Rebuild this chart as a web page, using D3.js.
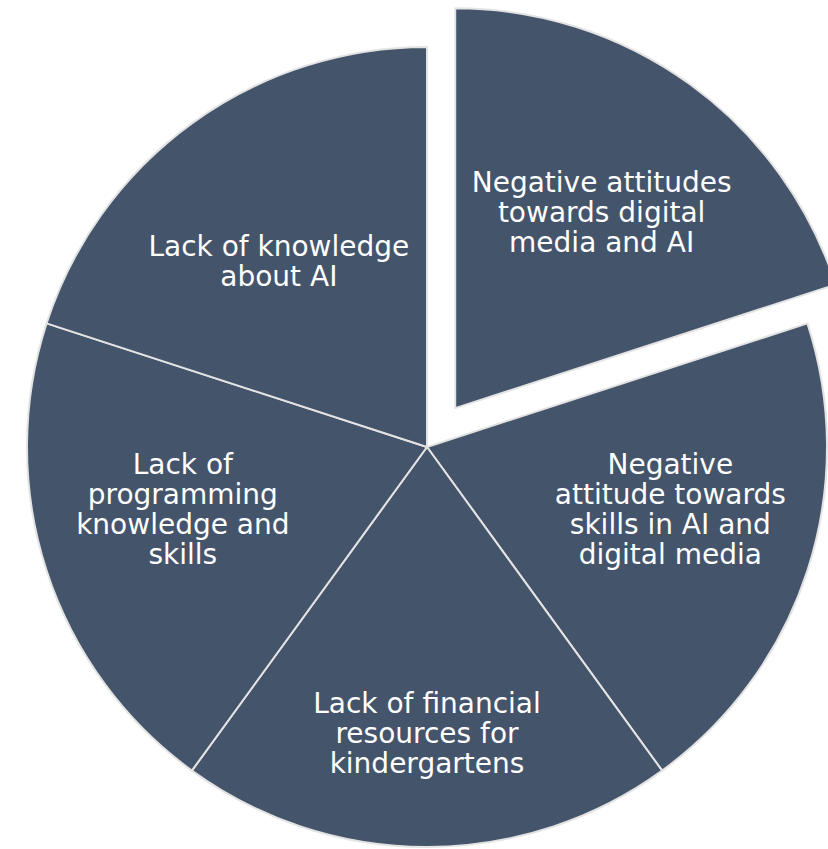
<!DOCTYPE html>
<html>
<head>
    <title>Barriers to AI in kindergartens</title>
    <script src="https://d3js.org/d3.v7.min.js"></script>
    <style>
        body { margin: 0; background: #ffffff; }
        svg { display: block; }
    </style>
</head>
<body>
    <svg width="828" height="849"></svg>

    <script>
        // Slice labels, clockwise from 12 o'clock (line breaks as in the picture)
        const categories = [
            "Negative attitudes\ntowards digital\nmedia and AI",
            "Negative\nattitude towards\nskills in AI and\ndigital media",
            "Lack of financial\nresources for\nkindergartens",
            "Lack of\nprogramming\nknowledge and\nskills",
            "Lack of knowledge\nabout AI"
        ];
        // All slices are the same size
        const values = [1, 1, 1, 1, 1];
        // Which slice is pulled out
        const exploded = [true, false, false, false, false];

        const svg = d3.select("svg");
        const cx = 427, cy = 447;
        const radius = 400;
        const explodeBy = 48;
        // label placement per slice: distance from centre and a small angle nudge (degrees)
        const labelDist = [245, 251, 286, 252, 238];
        const labelNudge = [0.7, -3.8, 0, 3.7, -2.5];

        const pie = d3.pie().sort(null).value(d => d);
        const arcs = pie(values);

        const arc = d3.arc().innerRadius(0).outerRadius(radius);

        const chart = svg.append("g")
            .attr("transform", `translate(${cx},${cy})`);

        const slices = chart.selectAll("g.slice")
            .data(arcs)
            .enter().append("g")
            .attr("class", "slice")
            .attr("transform", (d, i) => {
                if (!exploded[i]) return null;
                const a = (d.startAngle + d.endAngle) / 2;
                return `translate(${Math.sin(a) * explodeBy},${-Math.cos(a) * explodeBy})`;
            });

        slices.append("path")
            .attr("d", arc)
            .attr("fill", "#44546a")
            .attr("stroke", "#e3e3e3")
            .attr("stroke-width", 2)
            .attr("stroke-linejoin", "round");

        // Labels
        const lineHeight = 30;
        slices.append("text")
            .attr("fill", "#ffffff")
            .attr("font-family", "'DejaVu Sans', Verdana, sans-serif")
            .attr("font-size", 28)
            .attr("text-anchor", "middle")
            .each(function (d, i) {
                const a = (d.startAngle + d.endAngle) / 2 + labelNudge[i] * Math.PI / 180;
                const x = Math.sin(a) * labelDist[i];
                const y = -Math.cos(a) * labelDist[i];
                const lines = categories[i].split("\n");
                const top = y - (lines.length - 1) * lineHeight / 2;
                d3.select(this).selectAll("tspan")
                    .data(lines)
                    .enter().append("tspan")
                    .attr("x", x)
                    .attr("y", (l, j) => top + j * lineHeight)
                    .attr("dy", "0.36em")
                    .text(l => l);
            });
    </script>
</body>
</html>
